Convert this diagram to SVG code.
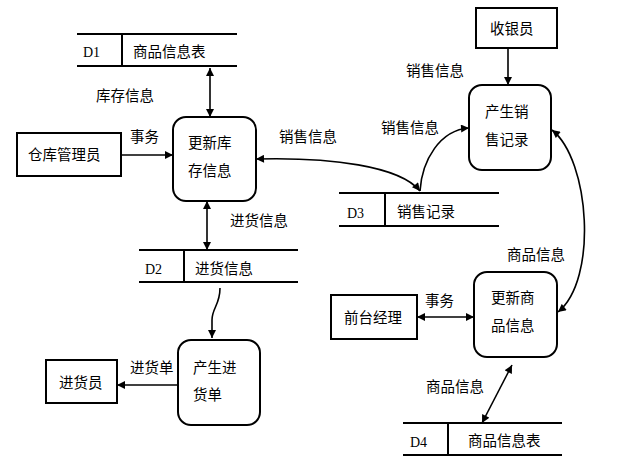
<svg xmlns="http://www.w3.org/2000/svg" width="621" height="468" viewBox="0 0 621 468">
<style>
.box{fill:#fff;stroke:#000;stroke-width:2}
.proc{fill:#fff;stroke:#000;stroke-width:2}
.st{stroke:#000;stroke-width:2;fill:none}
.t{font-family:"Noto Sans CJK SC","Noto Sans CJK JP",sans-serif;font-size:14.5px;fill:#000}
.d{font-family:"Liberation Serif",serif;font-size:14px;fill:#000}
.c{stroke:#000;stroke-width:1.6;fill:none;marker-end:url(#ah)}
.c2{stroke:#000;stroke-width:1.6;fill:none;marker-end:url(#ah);marker-start:url(#ah)}
</style>
<defs>
<marker id="ah" viewBox="0 0 10 10" refX="10" refY="5" markerWidth="9" markerHeight="8" markerUnits="userSpaceOnUse" orient="auto-start-reverse">
<path d="M0,0 L10,5 L0,10 z" fill="#000"/>
</marker>
</defs>
<rect width="621" height="468" fill="#fff"/>

<g id="D1">
<line class="st" x1="77" y1="34" x2="237" y2="34"/>
<line class="st" x1="77" y1="66" x2="237" y2="66"/>
<line class="st" x1="122" y1="34" x2="122" y2="66"/>
<text class="d" x="83" y="57">D1</text>
<text class="t" x="133" y="57">商品信息表</text>
</g>

<g id="P_update_stock">
<rect class="proc" x="173" y="117" width="83" height="84" rx="13"/>
<text class="t" x="188" y="148">更新库</text>
<text class="t" x="188" y="176">存信息</text>
</g>

<g id="E_warehouse">
<rect class="box" x="17" y="133" width="104" height="43"/>
<text class="t" x="28" y="160">仓库管理员</text>
</g>

<g id="D2">
<line class="st" x1="139" y1="250" x2="298" y2="250"/>
<line class="st" x1="139" y1="282" x2="298" y2="282"/>
<line class="st" x1="184" y1="250" x2="184" y2="282"/>
<text class="d" x="145" y="274">D2</text>
<text class="t" x="195" y="274">进货信息</text>
</g>

<g id="P_purchase">
<rect class="proc" x="178" y="340" width="82" height="85" rx="13"/>
<text class="t" x="193" y="373">产生进</text>
<text class="t" x="193" y="400">货单</text>
</g>

<g id="E_buyer">
<rect class="box" x="46" y="360" width="71" height="43"/>
<text class="t" x="59" y="388">进货员</text>
</g>

<g id="E_cashier">
<rect class="box" x="476" y="8" width="81" height="40"/>
<text class="t" x="490" y="34">收银员</text>
</g>

<g id="P_sales">
<rect class="proc" x="469" y="85" width="82" height="85" rx="13"/>
<text class="t" x="485" y="117">产生销</text>
<text class="t" x="485" y="145">售记录</text>
</g>

<g id="D3">
<line class="st" x1="339" y1="193" x2="499" y2="193"/>
<line class="st" x1="339" y1="226" x2="499" y2="226"/>
<line class="st" x1="385" y1="193" x2="385" y2="226"/>
<text class="d" x="347" y="218">D3</text>
<text class="t" x="397" y="217">销售记录</text>
</g>

<g id="P_update_goods">
<rect class="proc" x="474" y="272" width="83" height="85" rx="13"/>
<text class="t" x="491" y="303">更新商</text>
<text class="t" x="491" y="331">品信息</text>
</g>

<g id="E_manager">
<rect class="box" x="331" y="295" width="86" height="44"/>
<text class="t" x="344" y="323">前台经理</text>
</g>

<g id="D4">
<line class="st" x1="403" y1="423" x2="562" y2="423"/>
<line class="st" x1="403" y1="455" x2="562" y2="455"/>
<line class="st" x1="448" y1="423" x2="448" y2="455"/>
<text class="d" x="410" y="447">D4</text>
<text class="t" x="468" y="446">商品信息表</text>
</g>

<g id="connectors">
<line class="c2" x1="210" y1="68" x2="210" y2="117"/>
<line class="c" x1="121" y1="155" x2="173" y2="155"/>
<path class="c2" d="M256,159 C330,157 400,166 420,191"/>
<path class="c" d="M420,191 C422,160 440,130 469,128"/>
<line class="c" x1="508" y1="48" x2="508" y2="85"/>
<path class="c2" d="M552,130 C590,160 598,280 558,312"/>
<line class="c2" x1="417" y1="317" x2="474" y2="317"/>
<line class="c2" x1="512" y1="365" x2="482" y2="423"/>
<line class="c2" x1="207" y1="201" x2="207" y2="250"/>
<path class="c" d="M220,288 C220,305 212,308 212,320 L212,338"/>
<line class="c" x1="178" y1="385" x2="117" y2="385"/>
<text class="t" x="96" y="101">库存信息</text>
<text class="t" x="130" y="142">事务</text>
<text class="t" x="279" y="142">销售信息</text>
<text class="t" x="230" y="226">进货信息</text>
<text class="t" x="130" y="373">进货单</text>
<text class="t" x="406" y="76">销售信息</text>
<text class="t" x="381" y="133">销售信息</text>
<text class="t" x="507" y="260">商品信息</text>
<text class="t" x="425" y="306">事务</text>
<text class="t" x="426" y="392">商品信息</text>
</g>
</svg>
